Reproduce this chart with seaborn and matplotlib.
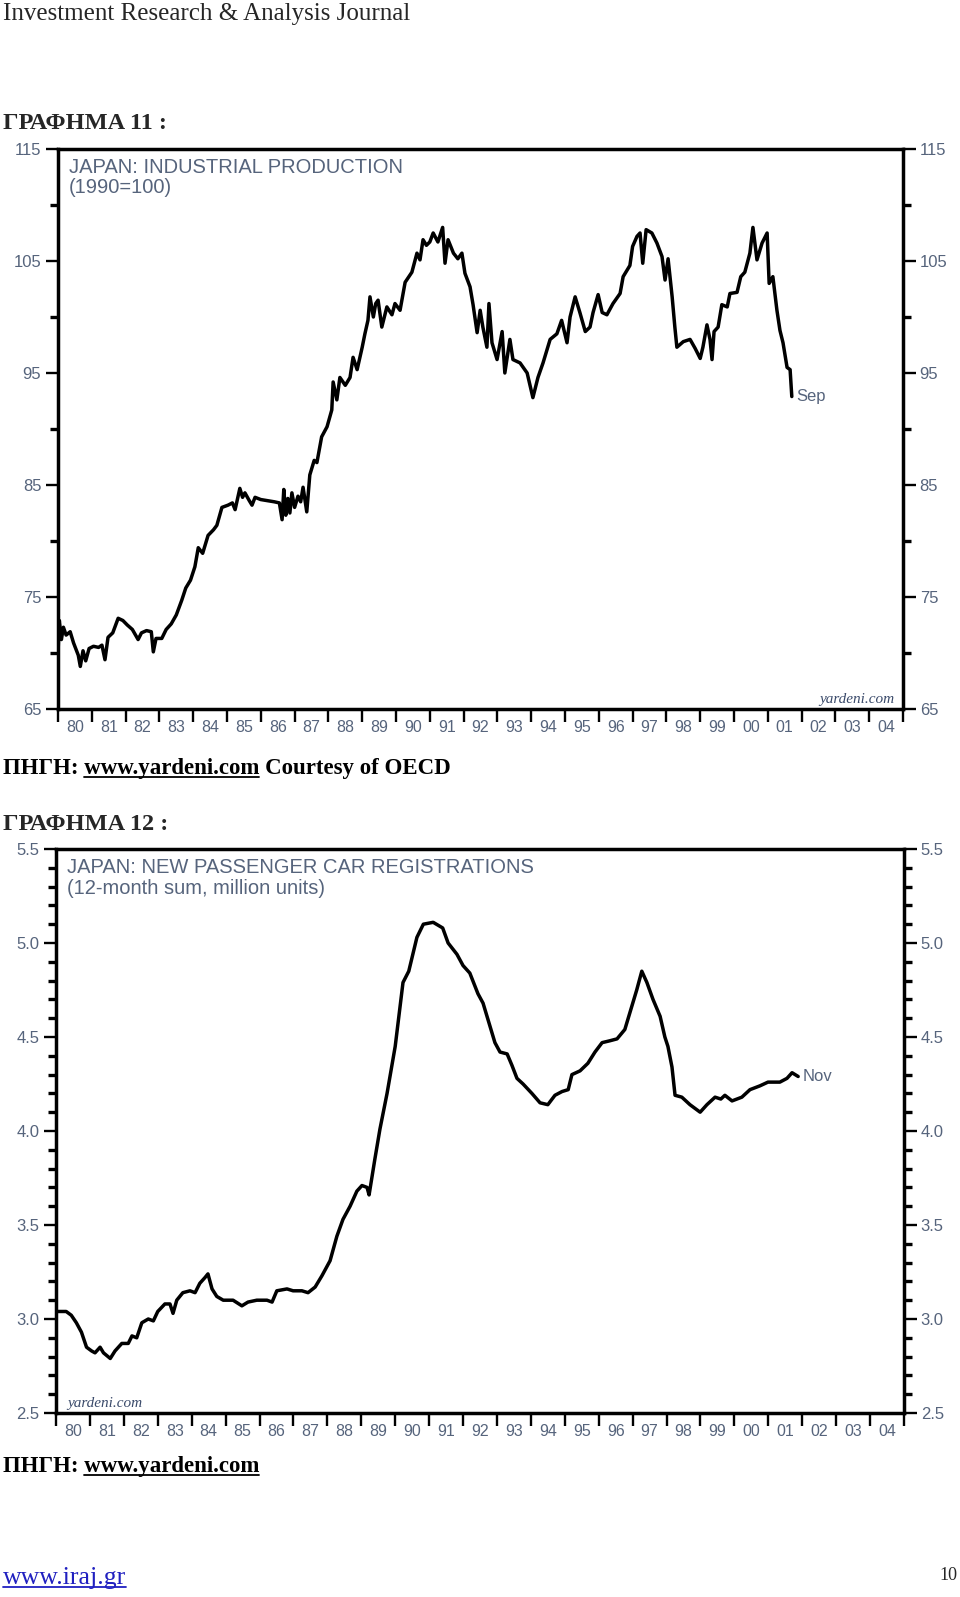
import pandas as pd
import seaborn as sns
import matplotlib.pyplot as plt
from matplotlib.lines import Line2D
from matplotlib.ticker import FixedLocator, FixedFormatter

# -------------------------
# DATA
# -------------------------
ip_year = [1980.00, 1980.04, 1980.10, 1980.16, 1980.24, 1980.36, 1980.46, 1980.60, 1980.66, 1980.74,
           1980.82, 1980.92, 1981.05, 1981.20, 1981.30, 1981.39, 1981.48, 1981.62, 1981.78, 1981.92,
           1982.05, 1982.20, 1982.37, 1982.47, 1982.62, 1982.76, 1982.82, 1982.90, 1983.07, 1983.20,
           1983.35, 1983.50, 1983.66, 1983.78, 1983.92, 1984.05, 1984.15, 1984.28, 1984.44, 1984.60,
           1984.70, 1984.85, 1985.03, 1985.16, 1985.24, 1985.38, 1985.46, 1985.53, 1985.66, 1985.74,
           1985.83, 1986.00, 1986.20, 1986.40, 1986.55, 1986.63, 1986.68, 1986.74, 1986.80, 1986.86,
           1986.92, 1987.00, 1987.10, 1987.18, 1987.25, 1987.36, 1987.45, 1987.58, 1987.66, 1987.80,
           1987.96, 1988.10, 1988.14, 1988.25, 1988.34, 1988.50, 1988.64, 1988.73, 1988.85, 1989.00,
           1989.08, 1989.17, 1989.23, 1989.33, 1989.40, 1989.47, 1989.58, 1989.73, 1989.88, 1989.97,
           1990.12, 1990.27, 1990.47, 1990.62, 1990.71, 1990.80, 1990.90, 1991.00, 1991.10, 1991.24,
           1991.38, 1991.45, 1991.54, 1991.70, 1991.83, 1991.95, 1992.04, 1992.19, 1992.28, 1992.40,
           1992.49, 1992.57, 1992.69, 1992.75, 1992.84, 1992.99, 1993.14, 1993.22, 1993.37, 1993.46,
           1993.67, 1993.88, 1994.05, 1994.20, 1994.35, 1994.56, 1994.76, 1994.90, 1995.06, 1995.15,
           1995.30, 1995.44, 1995.60, 1995.74, 1995.83, 1995.98, 1996.10, 1996.24, 1996.42, 1996.63,
           1996.72, 1996.92, 1997.00, 1997.13, 1997.22, 1997.30, 1997.40, 1997.57, 1997.72, 1997.87,
           1997.96, 1998.05, 1998.17, 1998.25, 1998.31, 1998.50, 1998.70, 1998.85, 1999.00, 1999.08,
           1999.20, 1999.29, 1999.35, 1999.41, 1999.53, 1999.64, 1999.80, 1999.88, 2000.09, 2000.20,
           2000.32, 2000.47, 2000.56, 2000.68, 2000.83, 2000.98, 2001.04, 2001.15, 2001.27, 2001.36,
           2001.45, 2001.57, 2001.66, 2001.71]
ip_value = [70.0, 72.9, 71.2, 72.3, 71.6, 71.9, 70.9, 69.8, 68.8, 70.2,
            69.3, 70.4, 70.6, 70.5, 70.7, 69.4, 71.4, 71.8, 73.1, 72.9,
            72.5, 72.1, 71.2, 71.8, 72.0, 71.9, 70.1, 71.3, 71.3, 72.1,
            72.6, 73.4, 74.7, 75.8, 76.5, 77.7, 79.4, 78.9, 80.5, 81.0,
            81.4, 83.0, 83.2, 83.4, 82.8, 84.7, 83.9, 84.3, 83.6, 83.2,
            83.9, 83.7, 83.6, 83.5, 83.4, 81.9, 84.6, 82.3, 83.8, 82.5,
            84.3, 83.0, 84.0, 83.5, 84.8, 82.6, 85.9, 87.2, 87.0, 89.3,
            90.2, 91.7, 94.2, 92.6, 94.6, 93.9, 94.6, 96.4, 95.3, 97.3,
            98.5, 99.7, 101.8, 100.0, 101.2, 101.5, 99.1, 100.9, 100.2, 101.2,
            100.6, 103.1, 104.0, 105.7, 105.1, 106.9, 106.4, 106.7, 107.5, 106.7,
            108.0, 104.8, 106.9, 105.7, 105.2, 105.7, 103.9, 102.7, 101.1, 98.6,
            100.6, 99.1, 97.3, 101.2, 97.7, 96.2, 98.7, 95.0, 98.0, 96.2,
            95.9, 95.0, 92.8, 94.6, 95.9, 98.0, 98.5, 99.7, 97.7, 100.0,
            101.8, 100.4, 98.7, 99.1, 100.4, 102.0, 100.4, 100.2, 101.2, 102.1,
            103.6, 104.6, 106.3, 107.2, 107.5, 104.8, 107.8, 107.5, 106.6, 105.4,
            103.3, 105.2, 101.8, 99.1, 97.3, 97.8, 98.0, 97.2, 96.3, 97.3,
            99.3, 98.0, 96.2, 98.7, 99.1, 101.1, 100.9, 102.1, 102.2, 103.6,
            104.0, 105.7, 108.0, 105.1, 106.6, 107.5, 103.0, 103.6, 100.6, 98.8,
            97.7, 95.5, 95.3, 92.9]

car_year = [1980.03, 1980.30, 1980.45, 1980.60, 1980.75, 1980.90, 1981.05, 1981.15, 1981.30, 1981.40,
            1981.60, 1981.74, 1981.94, 1982.13, 1982.24, 1982.38, 1982.53, 1982.72, 1982.87, 1983.00,
            1983.21, 1983.36, 1983.45, 1983.56, 1983.74, 1983.95, 1984.10, 1984.24, 1984.39, 1984.48,
            1984.60, 1984.74, 1984.93, 1985.22, 1985.48, 1985.66, 1985.92, 1986.22, 1986.37, 1986.51,
            1986.81, 1986.99, 1987.25, 1987.43, 1987.64, 1987.84, 1988.08, 1988.28, 1988.46, 1988.67,
            1988.87, 1989.02, 1989.17, 1989.23, 1989.40, 1989.55, 1989.76, 1990.00, 1990.23, 1990.40,
            1990.64, 1990.83, 1991.12, 1991.40, 1991.56, 1991.82, 1992.00, 1992.20, 1992.44, 1992.59,
            1992.74, 1992.94, 1993.09, 1993.30, 1993.44, 1993.59, 1993.77, 1994.03, 1994.27, 1994.50,
            1994.71, 1994.92, 1995.10, 1995.21, 1995.45, 1995.68, 1995.89, 1996.10, 1996.33, 1996.54,
            1996.77, 1996.92, 1997.12, 1997.27, 1997.42, 1997.60, 1997.81, 1997.95, 1998.04, 1998.16,
            1998.25, 1998.45, 1998.69, 1998.99, 1999.19, 1999.43, 1999.60, 1999.72, 1999.93, 2000.22,
            2000.46, 2000.75, 2000.99, 2001.34, 2001.55, 2001.70, 2001.88]
car_value = [3.04, 3.04, 3.02, 2.98, 2.93, 2.85, 2.83, 2.82, 2.85, 2.82,
             2.79, 2.83, 2.87, 2.87, 2.91, 2.90, 2.98, 3.00, 2.99, 3.04,
             3.08, 3.08, 3.03, 3.10, 3.14, 3.15, 3.14, 3.19, 3.22, 3.24,
             3.16, 3.12, 3.10, 3.10, 3.07, 3.09, 3.10, 3.10, 3.09, 3.15,
             3.16, 3.15, 3.15, 3.14, 3.17, 3.23, 3.31, 3.44, 3.53, 3.60,
             3.68, 3.71, 3.70, 3.66, 3.85, 4.01, 4.20, 4.45, 4.79, 4.85,
             5.03, 5.10, 5.11, 5.08, 5.00, 4.94, 4.88, 4.84, 4.73, 4.68,
             4.59, 4.47, 4.42, 4.41, 4.35, 4.28, 4.25, 4.20, 4.15, 4.14,
             4.19, 4.21, 4.22, 4.30, 4.32, 4.36, 4.42, 4.47, 4.48, 4.49,
             4.54, 4.63, 4.75, 4.85, 4.79, 4.70, 4.61, 4.50, 4.45, 4.34,
             4.19, 4.18, 4.14, 4.10, 4.14, 4.18, 4.17, 4.19, 4.16, 4.18,
             4.22, 4.24, 4.26, 4.26, 4.28, 4.31, 4.29]

year_labels = ["80", "81", "82", "83", "84", "85", "86", "87", "88", "89", "90", "91", "92",
               "93", "94", "95", "96", "97", "98", "99", "00", "01", "02", "03", "04"]

# y ticks as drawn on each chart
ip_major = [65, 75, 85, 95, 105, 115]
ip_minor = [70, 80, 90, 100, 110]
car_major = [2.5, 3.0, 3.5, 4.0, 4.5, 5.0, 5.5]
car_minor = [2.6, 2.7, 2.8, 2.9, 3.1, 3.2, 3.3, 3.4, 3.6, 3.7, 3.8, 3.9,
             4.1, 4.2, 4.3, 4.4, 4.6, 4.7, 4.8, 4.9, 5.1, 5.2, 5.3, 5.4]

ip = pd.DataFrame({"year": ip_year, "value": ip_value})
cars = pd.DataFrame({"year": car_year, "value": car_value})

# -------------------------
# STYLE
# -------------------------
sns.set_theme(style="white")
plt.rcParams["font.family"] = ["Liberation Sans", "DejaVu Sans"]
SERIF = ["Liberation Serif", "DejaVu Serif"]
TICK_C = "#56647c"
TITLE_C = "#56647c"

W, H = 960, 1597
fig = plt.figure(figsize=(W / 100, H / 100), dpi=100)


def fx(px):
    return px / W


def fy(py):
    return 1 - py / H


def style_axes(ax, major, minor, fmt):
    ax.set_xlim(1980, 2005)
    ax.set_ylim(major[0], major[-1])
    ax.set_xlabel("")
    ax.set_ylabel("")
    for sp in ax.spines.values():
        sp.set_visible(True)
        sp.set_color("black")
        sp.set_linewidth(2.5)
    # year boundaries as ticks, labels centred in each year
    ax.xaxis.set_major_locator(FixedLocator(list(range(1980, 2006))))
    ax.xaxis.set_major_formatter(FixedFormatter([""] * 26))
    ax.xaxis.set_minor_locator(FixedLocator([1980.5 + i for i in range(25)]))
    ax.xaxis.set_minor_formatter(FixedFormatter(year_labels))
    ax.tick_params(axis="x", which="major", direction="out", length=9, width=1.7,
                   color="black", bottom=True, top=False)
    ax.tick_params(axis="x", which="minor", length=0, labelsize=11.5,
                   labelcolor=TICK_C, pad=8, bottom=True)
    ax.yaxis.set_major_locator(FixedLocator(major))
    ax.yaxis.set_minor_locator(FixedLocator(minor))
    ax.yaxis.set_major_formatter(FixedFormatter([fmt.format(v) for v in major]))
    ax.tick_params(axis="y", which="major", direction="out", length=9, width=1.7,
                   color="black", left=True, right=True, labelleft=True, labelright=True,
                   labelsize=12, labelcolor=TICK_C, pad=3)
    ax.tick_params(axis="y", which="minor", direction="out", length=5.5, width=2.4,
                   color="black", left=True, right=True)
    ax.grid(False)


# -------------------------
# CHART 11: industrial production
# -------------------------
ax1 = fig.add_axes([fx(58), fy(709), fx(903 - 58), (709 - 149) / H])
sns.lineplot(data=ip, x="year", y="value", ax=ax1, color="black", lw=2.5,
             estimator=None, sort=False)
style_axes(ax1, ip_major, ip_minor, "{:.0f}")
ax1.text(0.013, 0.984, "JAPAN: INDUSTRIAL PRODUCTION\n(1990=100)", transform=ax1.transAxes,
         ha="left", va="top", fontsize=14.5, color=TITLE_C, linespacing=1.1)
ax1.text(0.99, 0.006, "yardeni.com", transform=ax1.transAxes, ha="right", va="bottom",
         fontsize=11, color="#3a4a6a", family=SERIF, style="italic")
ax1.annotate("Sep", xy=(ip_year[-1], ip_value[-1]), xytext=(3, 0), textcoords="offset points",
             ha="left", va="center", fontsize=12, color=TITLE_C)

# -------------------------
# CHART 12: car registrations
# -------------------------
ax2 = fig.add_axes([fx(56), fy(1413), fx(904 - 56), (1413 - 849) / H])
sns.lineplot(data=cars, x="year", y="value", ax=ax2, color="black", lw=2.5,
             estimator=None, sort=False)
style_axes(ax2, car_major, car_minor, "{:.1f}")
ax2.text(0.013, 0.984, "JAPAN: NEW PASSENGER CAR REGISTRATIONS\n(12-month sum, million units)",
         transform=ax2.transAxes, ha="left", va="top", fontsize=14.5, color=TITLE_C,
         linespacing=1.1)
ax2.text(0.013, 0.006, "yardeni.com", transform=ax2.transAxes, ha="left", va="bottom",
         fontsize=11, color="#3a4a6a", family=SERIF, style="italic")
ax2.annotate("Nov", xy=(car_year[-1], car_value[-1]), xytext=(3, 0), textcoords="offset points",
             ha="left", va="center", fontsize=12, color=TITLE_C)

# -------------------------
# PAGE TEXT
# -------------------------
renderer = fig.canvas.get_renderer()


def text_width(s, **kw):
    t = fig.text(0, 0, s, **kw)
    w = t.get_window_extent(renderer).width
    t.remove()
    return w


def underlined_line(x_px, base_px, text, link, size, weight, color="black"):
    kw = dict(fontsize=size, fontweight=weight, family=SERIF)
    fig.text(fx(x_px), fy(base_px), text, va="baseline", ha="left", color=color, **kw)
    end = text.index(link) + len(link)
    x1 = x_px + text_width(text[:end], **kw)
    x0 = x1 - text_width(link, **kw)
    fig.add_artist(Line2D([fx(x0), fx(x1)], [fy(base_px + 3), fy(base_px + 3)],
                          transform=fig.transFigure, color=color, lw=1.3))


fig.text(fx(3), fy(20), "Investment Research & Analysis Journal", va="baseline", ha="left",
         fontsize=18, family=SERIF)
fig.text(fx(3), fy(129), "ΓΡΑΦΗΜΑ 11 :", va="baseline", ha="left", fontsize=17.5,
         fontweight="bold", family=SERIF)
underlined_line(3, 774, "ΠΗΓΗ: www.yardeni.com Courtesy of OECD", "www.yardeni.com", 16.5, "bold")
fig.text(fx(3), fy(830), "ΓΡΑΦΗΜΑ 12 :", va="baseline", ha="left", fontsize=17.5,
         fontweight="bold", family=SERIF)
underlined_line(3, 1472, "ΠΗΓΗ: www.yardeni.com", "www.yardeni.com", 16.5, "bold")
underlined_line(3, 1584, "www.iraj.gr", "www.iraj.gr", 18.5, "normal", color="#2020c0")
fig.text(fx(957), fy(1580), "10", va="baseline", ha="right", fontsize=13, family=SERIF)

fig.savefig("out.png", dpi=100, facecolor="white")
